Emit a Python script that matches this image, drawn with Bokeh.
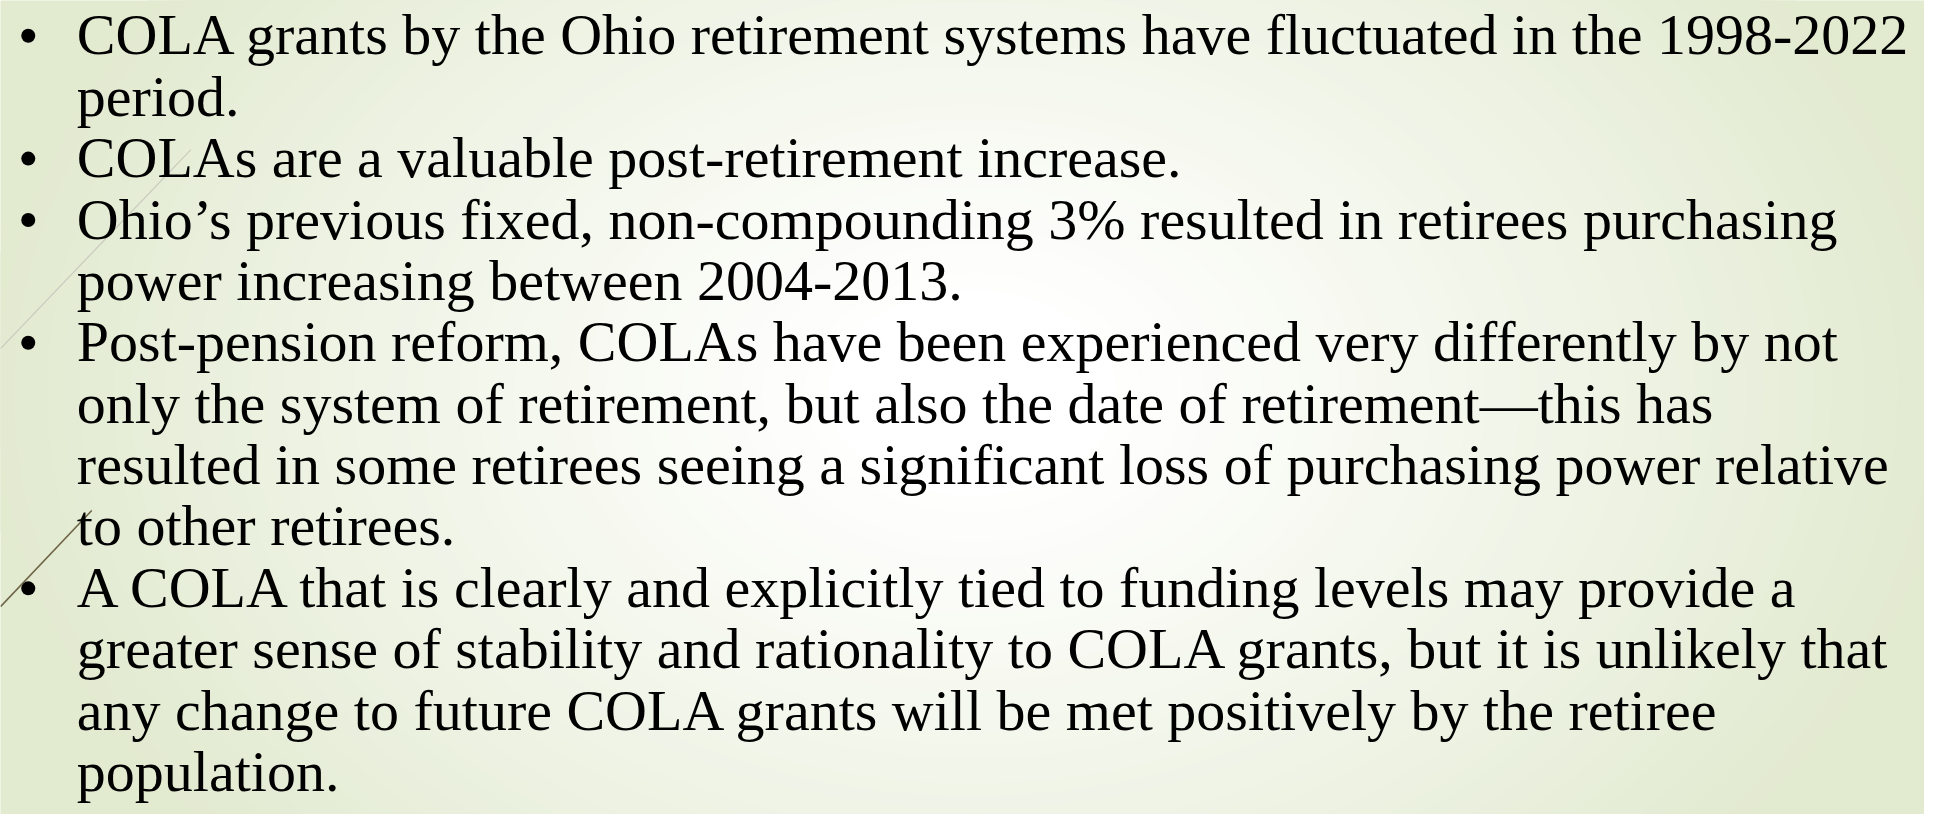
import numpy as np
from bokeh.plotting import figure
from bokeh.models import Range1d, ColumnDataSource
from bokeh.core.properties import value
from bokeh.embed import file_html
from bokeh.resources import INLINE

# ---- content ----
lines = [
    "COLA grants by the Ohio retirement systems have fluctuated in the 1998-2022",
    "period.",
    "COLAs are a valuable post-retirement increase.",
    "Ohio\u2019s previous fixed, non-compounding 3% resulted in retirees purchasing",
    "power increasing between 2004-2013.",
    "Post-pension reform, COLAs have been experienced very differently by not",
    "only the system of retirement, but also the date of retirement\u2014this has",
    "resulted in some retirees seeing a significant loss of purchasing power relative",
    "to other retirees.",
    "A COLA that is clearly and explicitly tied to funding levels may provide a",
    "greater sense of stability and rationality to COLA grants, but it is unlikely that",
    "any change to future COLA grants will be met positively by the retiree",
    "population.",
]
bullet_lines = [0, 2, 3, 5, 9]

# ---- layout (reference pixel coordinates, 1940 x 830 slide) ----
W, H = 1924, 814
RW, RH = 1940, 830
first_baseline = 51
line_step = 62.6
text_x = 77
bullet_x = 28
baseline_shift = 16  # svg text anchor correction

p = figure(width=W, height=H, output_backend="svg", toolbar_location=None,
           x_range=Range1d(0, RW), y_range=Range1d(RH, 0),
           min_border=0)
p.axis.visible = False
p.grid.visible = False
p.outline_line_color = None

edge = np.array([226, 234, 208], dtype=float)
white = np.array([255, 255, 255], dtype=float)


def hexcol(c):
    return "#%02x%02x%02x" % tuple(int(round(v)) for v in c)


p.background_fill_color = hexcol(edge)
p.border_fill_color = hexcol(edge)

# ---- background radial gradient as nested ellipses ----
cx, cy, rx, ry = 980, 400, 1000, 720
N = 48
for k in range(N + 1):
    t = 1 - k / N
    d = 0.12 + 0.88 * t ** (1 / 1.1)
    col = white * (1 - t) + edge * t
    p.ellipse(x=[cx], y=[cy], width=[2 * rx * d], height=[2 * ry * d],
              fill_color=hexcol(col), line_color=None)

# ---- decorative diagonal lines ----
p.line(x=[192, 0], y=[152, 355], line_color="#c9c9bd", line_width=1.2)
p.line(x=[92, 0], y=[520, 618], line_color="#6e6447", line_width=1.6)

# ---- text ----
ys_text = [first_baseline + i * line_step for i in range(len(lines))]
src = ColumnDataSource(dict(x=[text_x] * len(lines),
                            y=[v - baseline_shift for v in ys_text], text=lines))
p.text(x="x", y="y", text="text", source=src,
       text_font=value("Liberation Serif"), text_font_size="58px",
       text_color="#000000", text_baseline="alphabetic", text_align="left")

bsrc = ColumnDataSource(dict(x=[bullet_x] * len(bullet_lines),
                             y=[ys_text[i] - 15 for i in bullet_lines]))
p.scatter(x="x", y="y", source=bsrc, marker="circle", size=14,
          fill_color="#000000", line_color=None)

open("out.html", "w").write(file_html(p, INLINE))
